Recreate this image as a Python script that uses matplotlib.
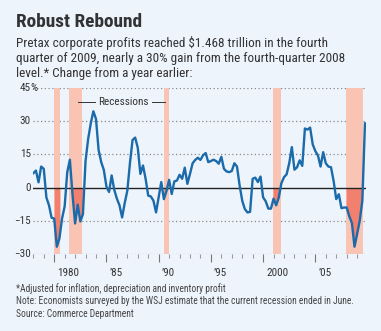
import numpy as np
import matplotlib
matplotlib.use("Agg")
import matplotlib.pyplot as plt
from matplotlib import font_manager

# quarterly change in pretax corporate profits from a year earlier, 1978Q1-2009Q4 (%)
profits = [
    6.5, 7.7, 2.4, 9.5,        # 1978
    8.5, -4.4, -8.0, -13.6,    # 1979
    -14.0, -26.7, -23.0, -14.0,  # 1980
    -8.5, 7.0, 12.6, -3.0,     # 1981
    -16.2, -7.7, -15.3, -12.0,  # 1982
    12.0, 22.0, 29.0, 34.5,    # 1983
    31.0, 17.0, 11.5, 8.0,     # 1984
    0.5, -2.0, 5.5, -1.0,      # 1985
    -5.0, -8.0, -13.5, -7.0,   # 1986
    -1.4, 11.0, 21.5, 22.6,    # 1987
    18.0, 6.2, 10.0, 4.0,      # 1988
    -3.6, -4.0, -5.9, -11.2,   # 1989
    -4.4, 2.5, -5.2, -1.5,     # 1990
    3.5, -2.9, 2.8, 3.2,       # 1991
    5.8, 4.0, 9.0, 1.7,        # 1992
    6.2, 11.0, 12.5, 13.5,     # 1993
    12.5, 14.6, 15.6, 11.5,    # 1994
    12.0, 12.6, 12.0, 10.8,    # 1995
    13.9, 8.5, 7.3, 7.0,       # 1996
    7.5, 11.0, 9.5, 1.0,       # 1997
    -5.9, -9.7, -11.2, -11.0,  # 1998
    4.0, 4.5, 2.5, 5.0,        # 1999
    -4.4, -6.2, -9.5, -9.5,    # 2000
    -5.0, -8.0, -4.5, 2.0,     # 2001
    4.7, 6.0, 11.0, 18.3,      # 2002
    8.1, 9.2, 12.3, 9.8,       # 2003
    26.7, 26.2, 27.1, 19.5,    # 2004
    16.5, 14.5, 9.5, 16.0,     # 2005
    11.0, 9.5, 9.2, 3.0,       # 2006
    -5.2, -3.0, -9.3, -9.0,    # 2007
    -9.0, -13.0, -16.0, -26.7,  # 2008
    -21.0, -15.0, -6.0, 29.0,  # 2009
]
quarters = 1978 + np.arange(len(profits)) / 4

# recession periods (start, end) in fractional years
recessions = [(1980.0, 1980.55), (1981.45, 1982.7), (1990.5, 1991.0),
              (2000.95, 2001.7), (2007.95, 2009.55)]

y_ticks = [45, 30, 15, 0, -15, -30]
y_labels = ["45", "30", "15", "0", "\u221215", "\u221230"]
x_major = [1980, 1985, 1990, 1995, 2000, 2005]
x_labels = ["1980", "\u201985", "\u201990", "\u201995", "2000", "\u201905"]

title = "Robust Rebound"
subtitle = ["Pretax corporate profits reached $1.468 trillion in the fourth",
            "quarter of 2009, nearly a 30% gain from the fourth-quarter 2008",
            "level.* Change from a year earlier:"]
notes = ["*Adjusted for inflation, depreciation and inventory profit",
         "Note: Economists surveyed by the WSJ estimate that the current recession ended in June.",
         "Source: Commerce Department"]


def pick_font(names):
    have = {f.name for f in font_manager.fontManager.ttflist}
    for n in names:
        if n in have:
            return n
    return "DejaVu Sans"


FONT = pick_font(["Liberation Sans Narrow", "Roboto Condensed", "Roboto", "Lato"])
plt.rcParams["font.family"] = [FONT, "DejaVu Sans"]

BG = "#eef4fc"
TEXT = "#333333"
LINE = "#1b6aaa"
BAND = "#f9c4b4"
DARK = "#f2806f"
GRID = "#8a8a8a"

W, H = 381, 331
fig = plt.figure(figsize=(W / 100, H / 100), dpi=100, facecolor=BG)
renderer = fig.canvas.get_renderer()


def fit_width(t, px):
    # shrink/grow a text so it spans the given width in pixels
    w = t.get_window_extent(renderer).width
    t.set_fontsize(t.get_fontsize() * px / w)


ax = fig.add_axes([33 / W, 77 / H, 333 / W, 166 / H])
ax.set_facecolor(BG)
ax.set_xlim(1977.97, 2009.85)
ax.set_ylim(-30, 45)

for s in ax.spines.values():
    s.set_visible(False)

# dotted gridlines and the solid zero line
for v in y_ticks:
    if v == 0:
        ax.axhline(0, color="#222222", lw=1.0, zorder=4)
    else:
        ax.axhline(v, color=GRID, lw=0.9, ls=(0, (1, 2)), zorder=1)

# recession bands, darker where profits fell below zero
for a, b in recessions:
    ax.axvspan(a, b, ymin=0, ymax=1, color=BAND, lw=0, zorder=2)
    tt = np.linspace(a, b, 200)
    vv = np.interp(tt, quarters, profits)
    ax.fill_between(tt, vv, 0, where=vv < 0, color=DARK, lw=0, zorder=3)

ax.plot(quarters, profits, color=LINE, lw=1.7, solid_joinstyle="round", zorder=5)

# recessions key
ax.text(1986.63, 38.8, "Recessions", ha="center", va="center",
        fontsize=8, color=TEXT, zorder=6)
ax.plot([1982.3, 1983.9], [38.8, 38.8], color=TEXT, lw=0.7, zorder=6)
ax.plot([1989.35, 1990.6], [38.8, 38.8], color=TEXT, lw=0.7, zorder=6)

# axis ticks
ax.set_yticks([])
ax.set_xticks(x_major)
ax.set_xticklabels([])
ax.set_xticks(np.arange(1978, 2010), minor=True)
ax.tick_params(axis="x", which="major", length=6, width=0.8, color="#777777")
ax.tick_params(axis="x", which="minor", length=3, width=0.8, color="#999999")

for v, lab in zip(y_ticks, y_labels):
    ax.text(1977.75, v, lab, ha="right", va="center", fontsize=8,
            color=TEXT, clip_on=False)
ax.text(1977.75, 45, "%", ha="left", va="center", fontsize=8, color=TEXT, clip_on=False)

for x, lab in zip(x_major, x_labels):
    ax.text(x + 0.3, -38.5, lab, ha="left", va="center", fontsize=8,
            color=TEXT, clip_on=False)

# headings
t = fig.text(16 / W, 1 - 27 / H, title, fontsize=14, color=TEXT,
             va="baseline", weight="bold")
fit_width(t, 127)
for i, line in enumerate(subtitle):
    t = fig.text(16 / W, 1 - (47 + 15 * i) / H, line, fontsize=9, color=TEXT, va="baseline")
    if i == 0:
        fit_width(t, 311)
        sub_size = t.get_fontsize()
    else:
        t.set_fontsize(sub_size)
for i, line in enumerate(notes):
    t = fig.text(16 / W, 1 - (292 + 12.5 * i) / H, line, fontsize=6.5, color="#444444", va="baseline")
    if i == 1:
        fit_width(t, 338)
        note_size = t.get_fontsize()
for t in fig.texts[-3:]:
    t.set_fontsize(note_size)

fig.savefig("out.png", dpi=100, facecolor=BG)
